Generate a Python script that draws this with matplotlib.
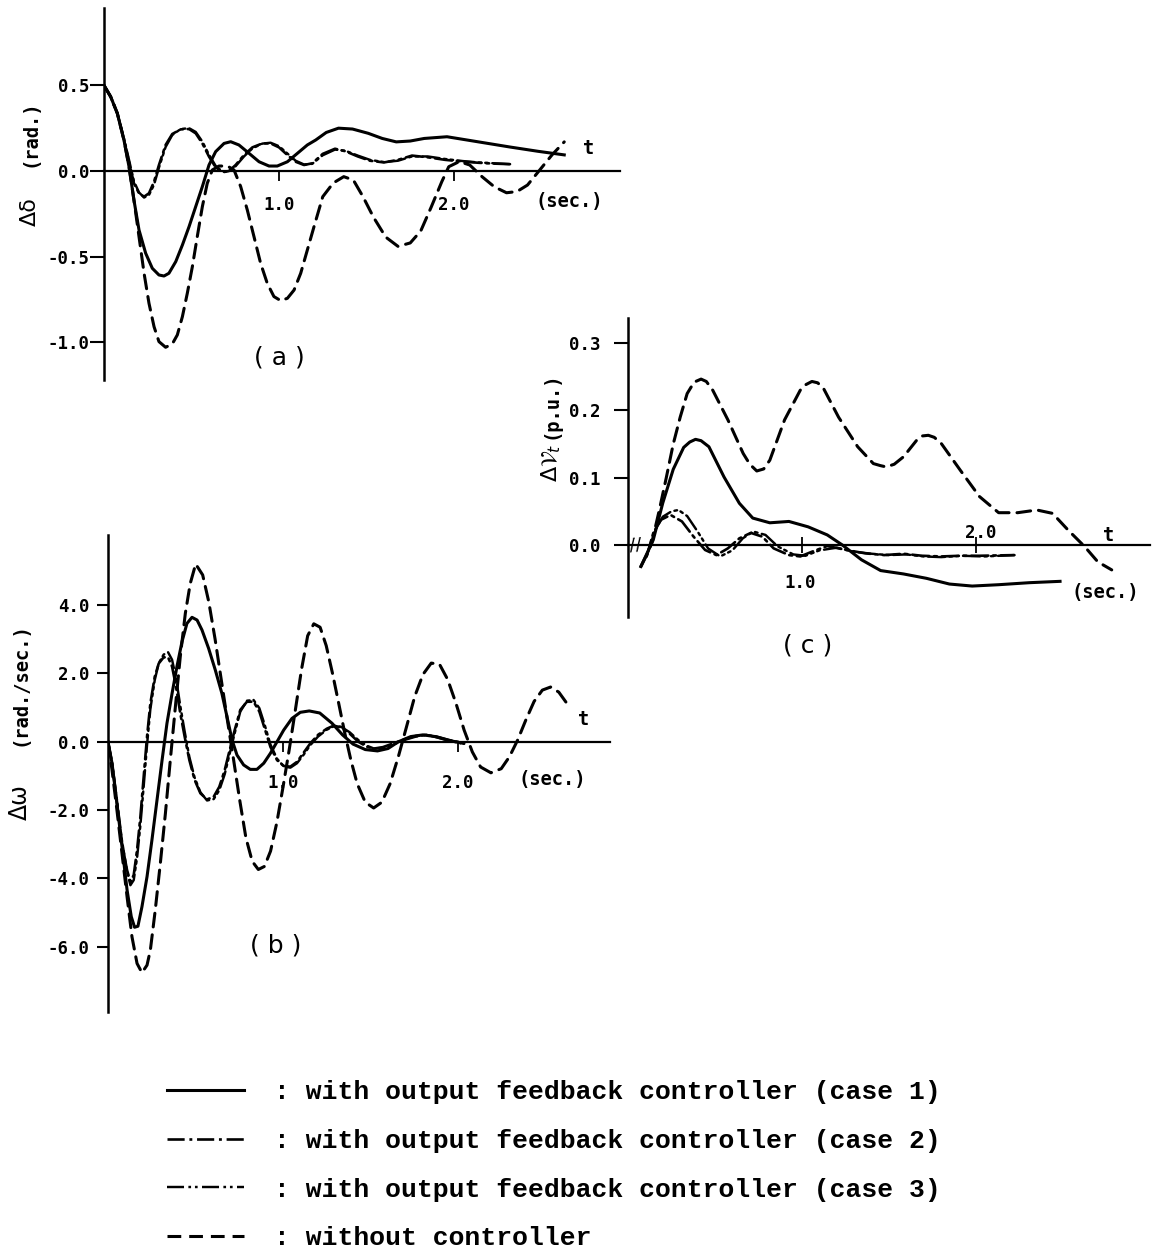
import matplotlib
matplotlib.use("Agg")
import matplotlib.pyplot as plt
from matplotlib.lines import Line2D

W, H = 1155, 1259

# ---- (a) rotor angle deviation, rad ----
a_t_case1 = [0, 0.038, 0.076, 0.114, 0.143, 0.171, 0.2, 0.238, 0.276, 0.314, 0.343, 0.371, 0.41,
             0.448, 0.486, 0.524, 0.562, 0.6, 0.638, 0.686, 0.724, 0.771, 0.829, 0.886, 0.943, 0.99,
             1.048, 1.105, 1.162, 1.21, 1.27, 1.34, 1.42, 1.51, 1.59, 1.67, 1.75, 1.83, 1.96, 2.05,
             2.14, 2.32, 2.48, 2.63]
a_case1 = [0.5, 0.434, 0.337, 0.181, 0.025, -0.169, -0.344, -0.48, -0.568, -0.607, -0.613, -0.597,
           -0.529, -0.432, -0.325, -0.208, -0.091, 0.035, 0.113, 0.161, 0.171, 0.152, 0.103, 0.054,
           0.029, 0.029, 0.054, 0.103, 0.152, 0.181, 0.225, 0.25, 0.245, 0.22, 0.19, 0.17, 0.175,
           0.19, 0.20, 0.185, 0.17, 0.14, 0.115, 0.094]

a_t_case23 = [0, 0.038, 0.076, 0.114, 0.143, 0.171, 0.2, 0.229, 0.257, 0.286, 0.314, 0.352, 0.39,
              0.438, 0.486, 0.524, 0.562, 0.6, 0.638, 0.676, 0.714, 0.752, 0.8, 0.848, 0.905, 0.952,
              1.0, 1.048, 1.095, 1.143, 1.19, 1.25, 1.32, 1.38, 1.45, 1.52, 1.6, 1.68, 1.76, 1.85,
              1.95, 2.05, 2.14, 2.23, 2.32]
a_case2 = [0.5, 0.434, 0.337, 0.181, 0.054, -0.072, -0.13, -0.15, -0.13, -0.062, 0.035, 0.152, 0.216,
           0.243, 0.245, 0.22, 0.161, 0.084, 0.021, -0.008, 0.0, 0.035, 0.093, 0.138, 0.161, 0.161,
           0.138, 0.093, 0.054, 0.035, 0.045, 0.1, 0.13, 0.115, 0.085, 0.06, 0.05, 0.065, 0.09, 0.08,
           0.065, 0.055, 0.048, 0.043, 0.04]
a_case3 = [0.5, 0.434, 0.337, 0.19, 0.065, -0.06, -0.125, -0.155, -0.14, -0.08, 0.02, 0.14, 0.21,
           0.245, 0.25, 0.228, 0.172, 0.095, 0.03, -0.003, -0.002, 0.028, 0.085, 0.132, 0.16, 0.165,
           0.145, 0.102, 0.06, 0.038, 0.042, 0.092, 0.125, 0.118, 0.09, 0.065, 0.052, 0.06, 0.085,
           0.085, 0.07, 0.058, 0.05, 0.045, 0.04]

a_t_none = [0, 0.038, 0.076, 0.114, 0.143, 0.171, 0.2, 0.229, 0.257, 0.286, 0.314, 0.352, 0.39, 0.419,
            0.448, 0.476, 0.505, 0.533, 0.562, 0.59, 0.619, 0.657, 0.705, 0.743, 0.781, 0.819, 0.857,
            0.895, 0.933, 0.971, 1.01, 1.048, 1.086, 1.124, 1.162, 1.2, 1.25, 1.31, 1.37, 1.425,
            1.48, 1.54, 1.61, 1.68, 1.75, 1.81, 1.87, 1.93, 1.97, 2.03, 2.09, 2.16, 2.23, 2.30,
            2.36, 2.42, 2.49, 2.56, 2.63]
a_none = [0.5, 0.434, 0.337, 0.181, 0.025, -0.169, -0.383, -0.597, -0.772, -0.909, -0.996, -1.029,
          -1.01, -0.957, -0.85, -0.714, -0.558, -0.383, -0.208, -0.072, 0.006, 0.029, 0.029, 0.006,
          -0.091, -0.228, -0.383, -0.539, -0.656, -0.733, -0.757, -0.743, -0.695, -0.597, -0.461,
          -0.325, -0.15, -0.07, -0.033, -0.053, -0.15, -0.27, -0.386, -0.44, -0.42, -0.35, -0.21,
          -0.063, 0.025, 0.055, 0.035, -0.033, -0.092, -0.127, -0.12, -0.082, 0.006, 0.094, 0.17]

# ---- (b) speed deviation, rad/sec ----
b_t_case1 = [0, 0.023, 0.051, 0.08, 0.109, 0.133, 0.152, 0.171, 0.194, 0.223, 0.251, 0.28, 0.309,
             0.337, 0.366, 0.394, 0.423, 0.451, 0.48, 0.509, 0.537, 0.575, 0.613, 0.651, 0.68, 0.709,
             0.737, 0.775, 0.813, 0.851, 0.89, 0.928, 0.966, 1.004, 1.051, 1.099, 1.15, 1.21, 1.28,
             1.34, 1.4, 1.47, 1.54, 1.6, 1.66, 1.73, 1.8, 1.87, 1.94, 2.01]
b_case1 = [0, -0.63, -1.8, -3.07, -4.34, -5.12, -5.43, -5.4, -4.83, -3.95, -2.88, -1.71, -0.54, 0.54,
           1.41, 2.2, 2.93, 3.46, 3.64, 3.56, 3.27, 2.73, 2.1, 1.41, 0.73, 0.05, -0.39, -0.68, -0.81,
           -0.81, -0.63, -0.34, 0, 0.34, 0.68, 0.86, 0.9, 0.84, 0.54, 0.2, -0.07, -0.23, -0.27, -0.2,
           0, 0.15, 0.2, 0.15, 0.05, -0.03]

b_t_case23 = [0, 0.023, 0.051, 0.08, 0.109, 0.128, 0.147, 0.166, 0.185, 0.204, 0.223, 0.242, 0.267,
              0.29, 0.318, 0.343, 0.366, 0.389, 0.413, 0.438, 0.465, 0.495, 0.528, 0.566, 0.604, 0.636,
              0.667, 0.693, 0.724, 0.756, 0.794, 0.832, 0.865, 0.895, 0.928, 0.966, 1.004, 1.042,
              1.08, 1.118, 1.156, 1.2, 1.25, 1.29, 1.33, 1.38, 1.43, 1.48, 1.52, 1.57, 1.63, 1.7,
              1.76, 1.82, 1.88, 1.95, 2.035]
b_case2 = [0, -0.63, -1.8, -2.98, -3.76, -4.1, -3.9, -3.17, -2.2, -1.02, 0.15, 1.12, 1.9, 2.29, 2.47,
           2.47, 2.2, 1.61, 0.83, 0.15, -0.54, -1.12, -1.51, -1.69, -1.61, -1.32, -0.83, -0.29, 0.34,
           0.93, 1.17, 1.17, 0.88, 0.39, -0.15, -0.54, -0.71, -0.73, -0.59, -0.32, -0.05, 0.2, 0.38,
           0.47, 0.42, 0.24, 0.0, -0.15, -0.2, -0.16, -0.05, 0.08, 0.17, 0.2, 0.13, 0.03, -0.06]
b_case3 = [0, -0.6, -1.7, -2.9, -3.8, -4.2, -4.05, -3.4, -2.45, -1.3, -0.1, 0.95, 1.8, 2.3, 2.55, 2.62,
           2.4, 1.85, 1.05, 0.3, -0.45, -1.05, -1.48, -1.72, -1.68, -1.42, -0.95, -0.4, 0.25, 0.88,
           1.2, 1.22, 0.98, 0.5, -0.08, -0.5, -0.72, -0.76, -0.63, -0.38, -0.1, 0.15, 0.35, 0.45,
           0.44, 0.28, 0.05, -0.12, -0.2, -0.18, -0.08, 0.06, 0.15, 0.2, 0.15, 0.05, -0.04]

b_t_none = [0, 0.023, 0.051, 0.08, 0.109, 0.137, 0.166, 0.194, 0.223, 0.242, 0.27, 0.299, 0.328,
            0.356, 0.385, 0.413, 0.442, 0.47, 0.501, 0.541, 0.576, 0.612, 0.647, 0.682, 0.718, 0.753,
            0.788, 0.824, 0.859, 0.894, 0.929, 0.965, 1.0, 1.035, 1.071, 1.106, 1.141, 1.176, 1.212,
            1.247, 1.282, 1.318, 1.353, 1.388, 1.424, 1.47, 1.518, 1.565, 1.612, 1.659, 1.706, 1.753,
            1.8, 1.847, 1.894, 1.941, 1.988, 2.035, 2.082, 2.129, 2.188, 2.247, 2.294, 2.341, 2.388,
            2.435, 2.482, 2.529, 2.576, 2.635]
b_none = [0, -0.83, -2.0, -3.27, -4.54, -5.71, -6.49, -6.76, -6.54, -6.1, -4.93, -3.56, -2.1, -0.54,
          1.02, 2.49, 3.76, 4.63, 5.2, 4.88, 4.09, 3.0, 1.82, 0.64, -0.54, -1.72, -2.81, -3.5, -3.74,
          -3.65, -3.2, -2.36, -1.33, -0.25, 0.94, 2.12, 3.1, 3.45, 3.35, 2.81, 2.02, 1.13, 0.25, -0.54,
          -1.23, -1.77, -1.94, -1.77, -1.23, -0.44, 0.44, 1.33, 1.97, 2.3, 2.27, 1.82, 1.13, 0.34,
          -0.3, -0.74, -0.91, -0.79, -0.44, 0.05, 0.64, 1.18, 1.51, 1.6, 1.45, 1.03]

# ---- (c) terminal voltage deviation, p.u. ----
c_t_case1 = [0.074, 0.11, 0.145, 0.20, 0.26, 0.32, 0.355, 0.388, 0.42, 0.465, 0.552, 0.64, 0.717,
             0.815, 0.925, 1.035, 1.145, 1.232, 1.342, 1.452, 1.583, 1.715, 1.847, 1.978, 2.13,
             2.307, 2.483]
c_case1 = [-0.032, -0.012, 0.0075, 0.0625, 0.1125, 0.145, 0.153, 0.157, 0.155, 0.146, 0.101, 0.062,
           0.040, 0.033, 0.035, 0.027, 0.015, 0.0, -0.022, -0.038, -0.043, -0.0495, -0.058, -0.061,
           -0.059, -0.056, -0.054]

c_t_case2 = [0.107, 0.145, 0.19, 0.245, 0.31, 0.377, 0.443, 0.508, 0.574, 0.64, 0.706, 0.772, 0.837,
             0.925, 0.99, 1.057, 1.145, 1.255, 1.364, 1.473, 1.583, 1.69, 1.80, 1.91, 2.02, 2.22]
c_case2 = [-0.017, 0.0175, 0.0375, 0.0446, 0.035, 0.0124, -0.0074, -0.015, -0.005, 0.0099, 0.018,
           0.0124, -0.005, -0.015, -0.017, -0.01, -0.0015, -0.0074, -0.0124, -0.015, -0.013, -0.016,
           -0.017, -0.016, -0.016, -0.015]

c_t_case3 = [0.107, 0.15, 0.2, 0.25, 0.29, 0.34, 0.4, 0.46, 0.53, 0.6, 0.66, 0.72, 0.79, 0.86, 0.95,
             1.02, 1.1, 1.2, 1.3, 1.4, 1.5, 1.6, 1.7, 1.8, 1.92, 2.05, 2.22]
c_case3 = [-0.017, 0.02, 0.042, 0.05, 0.052, 0.043, 0.02, -0.005, -0.017, -0.008, 0.01, 0.02, 0.015,
           -0.002, -0.014, -0.016, -0.008, -0.004, -0.01, -0.013, -0.015, -0.014, -0.017, -0.018,
           -0.016, -0.017, -0.015]

c_t_none = [0.074, 0.105, 0.136, 0.18, 0.22, 0.26, 0.30, 0.34, 0.38, 0.42, 0.45, 0.487, 0.574, 0.662,
            0.70, 0.74, 0.78, 0.815, 0.90, 0.99, 1.02, 1.057, 1.09, 1.123, 1.21, 1.32, 1.41, 1.45,
            1.484, 1.53, 1.583, 1.66, 1.69, 1.726, 1.76, 1.80, 1.91, 2.02, 2.13, 2.24, 2.35, 2.44,
            2.53, 2.625, 2.70, 2.78]
c_none = [-0.032, -0.016, 0.0025, 0.052, 0.10, 0.15, 0.19, 0.225, 0.242, 0.2465, 0.243, 0.230, 0.186,
          0.136, 0.12, 0.110, 0.113, 0.126, 0.186, 0.230, 0.238, 0.243, 0.241, 0.233, 0.19, 0.146,
          0.121, 0.118, 0.116, 0.12, 0.131, 0.156, 0.162, 0.163, 0.16, 0.151, 0.111, 0.072, 0.048,
          0.048, 0.052, 0.047, 0.022, -0.0025, -0.025, -0.037]

a_yticks = [0.5, 0.0, -0.5, -1.0]
b_yticks = [4.0, 2.0, 0.0, -2.0, -4.0, -6.0]
c_yticks = [0.3, 0.2, 0.1, 0.0]
x_ticks = [1.0, 2.0]

legend_labels = [": with output feedback controller (case 1)",
                 ": with output feedback controller (case 2)",
                 ": with output feedback controller (case 3)",
                 ": without controller"]

# line styles for the four cases
STYLE = {
    "case1": dict(color="black", lw=2.2, ls="-"),
    "case2": dict(color="black", lw=1.9, ls=(0, (6.5, 1.8, 1.1, 1.8))),
    "case3": dict(color="black", lw=1.75, ls=(0, (7, 1.8, 1.1, 1.6, 1.1, 1.8))),
    "none": dict(color="black", lw=2.2, ls=(0, (4.5, 2.6))),
}
JOIN = dict(solid_joinstyle="round", dash_joinstyle="round", dash_capstyle="round")

TICKFONT = dict(family="DejaVu Sans Mono", weight="bold", size=12.5)
LABFONT = dict(family="DejaVu Sans Mono", weight="bold", size=13.5)
PANELFONT = dict(family="DejaVu Sans", size=18)

fig = plt.figure(figsize=(W / 100, H / 100), dpi=100)


def add_panel(left, top, right, bottom):
    ax = fig.add_axes([left / W, 1 - bottom / H, (right - left) / W, (bottom - top) / H])
    ax.patch.set_visible(False)
    for s in ("top", "right"):
        ax.spines[s].set_visible(False)
    ax.spines["bottom"].set_position(("data", 0))
    ax.spines["left"].set_linewidth(1.8)
    ax.spines["bottom"].set_linewidth(1.6)
    ax.tick_params(axis="x", direction="out", length=7, width=1.3)
    return ax


def style_ticks(ax, yticks, ylen, ypad, xpad):
    ax.set_yticks(yticks)
    ax.set_yticklabels([f"{v:.1f}" for v in yticks], fontdict=TICKFONT)
    ax.tick_params(axis="y", direction="out", length=ylen, width=1.5, pad=ypad)
    ax.set_xticks(x_ticks)
    if xpad is None:
        ax.set_xticklabels([])
    else:
        ax.set_xticklabels([f"{v:.1f}" for v in x_ticks], fontdict=TICKFONT)
        ax.tick_params(axis="x", pad=xpad)


def draw(ax, t, v, key):
    ax.plot(t, v, **STYLE[key], **JOIN)


# (a)
ax_a = add_panel(104, 8, 620, 380)
ax_a.set_xlim(0, 516 / 175)
ax_a.set_ylim((171 - 380) / 171.3, (171 - 8) / 171.3)
style_ticks(ax_a, a_yticks, 10, 0.5, 11)
draw(ax_a, a_t_none, a_none, "none")
draw(ax_a, a_t_case1, a_case1, "case1")
draw(ax_a, a_t_case23, a_case2, "case2")
draw(ax_a, a_t_case23, a_case3, "case3")
ax_a.text(2.77, 0.13, "t", ha="center", va="center", fontdict=LABFONT)
ax_a.text(2.66, -0.18, "(sec.)", ha="center", va="center", fontdict=LABFONT)
ax_a.text(1.0, -1.09, "( a )", ha="center", va="center", **PANELFONT)
fig.text(30 / W, 1 - 133 / H, "(rad.)", rotation=90, ha="center", va="center", **LABFONT)
fig.text(30 / W, 1 - 212 / H, "Δδ", rotation=90, ha="center", va="center",
         family="DejaVu Sans", size=16)

# (b)
ax_b = add_panel(108, 535, 610, 1012)
ax_b.set_xlim(0, 502 / 175)
ax_b.set_ylim((741.7 - 1012) / 34.17, (741.7 - 535) / 34.17)
style_ticks(ax_b, b_yticks, 8, 5, 16)
draw(ax_b, b_t_none, b_none, "none")
draw(ax_b, b_t_case1, b_case1, "case1")
draw(ax_b, b_t_case23, b_case2, "case2")
draw(ax_b, b_t_case23, b_case3, "case3")
ax_b.text(2.72, 0.66, "t", ha="center", va="center", fontdict=LABFONT)
ax_b.text(2.54, -1.12, "(sec.)", ha="center", va="center", fontdict=LABFONT)
ax_b.text(0.96, -5.97, "( b )", ha="center", va="center", **PANELFONT)
fig.text(20 / W, 1 - 684 / H, "(rad./sec.)", rotation=90, ha="center", va="center", **LABFONT)
fig.text(20 / W, 1 - 802 / H, "Δω", rotation=90, ha="center", va="center",
         family="DejaVu Sans", size=17)

# (c)
ax_c = add_panel(628, 318, 1150, 617)
ax_c.set_xlim(0, 522 / 174)
ax_c.set_ylim((545 - 617) / 673, (545 - 318) / 673)
style_ticks(ax_c, c_yticks, 10, 10, None)
ax_c.tick_params(axis="x", direction="inout", length=12)
draw(ax_c, c_t_none, c_none, "none")
draw(ax_c, c_t_case1, c_case1, "case1")
draw(ax_c, c_t_case2, c_case2, "case2")
draw(ax_c, c_t_case3, c_case3, "case3")
ax_c.text(0.99, -0.056, "1.0", ha="center", va="center", fontdict=TICKFONT)
ax_c.text(2.03, 0.018, "2.0", ha="center", va="center", fontdict=TICKFONT)
ax_c.text(2.76, 0.014, "t", ha="center", va="center", fontdict=LABFONT)
ax_c.text(2.74, -0.07, "(sec.)", ha="center", va="center", fontdict=LABFONT)
ax_c.text(1.03, -0.149, "( c )", ha="center", va="center", **PANELFONT)
# axis break mark on the time axis
ax_c.text(0.045, 0.0, "//", ha="center", va="center", family="DejaVu Sans", size=13,
          rotation=5)
fig.text(551 / W, 1 - 405 / H, "(p.u.)", rotation=90, ha="center", va="center", **LABFONT)
fig.text(551 / W, 1 - 463 / H, r"$\Delta\mathcal{V}_t$", rotation=90, ha="center",
         va="center", size=16)

# legend at the bottom
handles = [Line2D([], [], **STYLE[k]) for k in ("case1", "case2", "case3", "none")]
fig.legend(handles, legend_labels, loc="upper left", bbox_to_anchor=(167 / W, 1 - 1080 / H),
           frameon=False, borderpad=0, borderaxespad=0, handlelength=2.9, handletextpad=1.15,
           labelspacing=0.94, prop=dict(family="Liberation Mono", weight="bold", size=19))

fig.savefig("out.png", dpi=100)
